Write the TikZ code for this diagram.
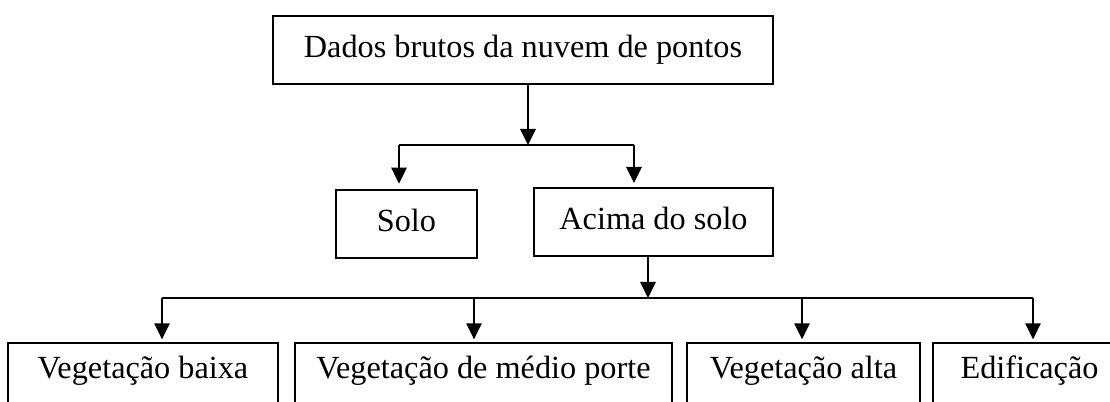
\documentclass[tikz,border=0pt]{standalone}
\usepackage{fontspec}
\setmainfont{Liberation Serif}
\usepackage{tikz}
\usetikzlibrary{arrows.meta, positioning, calc}

\begin{document}
\begin{tikzpicture}[
  x=0.75pt, y=-0.75pt,
  box/.style={draw=black, fill=white, line width=1.3pt, anchor=north, inner xsep=0pt, inner ysep=0pt, align=center, font=\fontsize{24.2}{28}\selectfont, text height=31.5pt, text depth=19.5pt},
  lowbox/.style={box, text height=27pt, text depth=34pt},
  arrow/.style={-{Triangle[length=12pt, width=11.5pt]}, black, line width=1.3pt},
  bar/.style={black, line width=1.3pt}
]
\useasboundingbox (0,0) rectangle (1110,402);
\clip (0,0) rectangle (1110,402);
% boxes
\node[box, minimum width=375pt] (dados) at (523,15) {Dados brutos da nuvem de pontos};
\node[box, minimum width=105.75pt] (solo) at (406.5,189) {Solo};
\node[box, minimum width=179.25pt] (acima) at (653.5,187) {Acima do solo};
\node[lowbox, minimum width=202.5pt] (vbaixa) at (143,342) {Vegetação baixa};
\node[lowbox, minimum width=282.75pt] (vmedio) at (483.5,342) {Vegetação de médio porte};
\node[lowbox, minimum width=174.75pt] (valta) at (803.5,342) {Vegetação alta};
\node[lowbox, minimum width=144.75pt] (edif) at (1029.5,342) {Edificação};
% junctions
\coordinate (s0) at (528,145);
\coordinate (j1) at (399,145);
\coordinate (j2) at (634,145);
\coordinate (s1) at (648,298);
\coordinate (k1) at (162,298);
\coordinate (k2) at (474,298);
\coordinate (k3) at (802,298);
\coordinate (k4) at (1033,298);
% connectors
\draw[arrow] (dados.south -| s0) -- (s0);
\draw[bar] (j1) -- (j2);
\draw[arrow, shorten >=4pt] (j1) -- (j1 |- solo.north);
\draw[arrow, shorten >=3pt] (j2) -- (j2 |- acima.north);
\draw[arrow] (acima.south -| s1) -- (s1);
\draw[bar] (k1) -- (k4);
\draw[arrow, shorten >=2pt] (k1) -- (k1 |- vbaixa.north);
\draw[arrow, shorten >=2pt] (k2) -- (k2 |- vmedio.north);
\draw[arrow, shorten >=2pt] (k3) -- (k3 |- valta.north);
\draw[arrow, shorten >=2pt] (k4) -- (k4 |- edif.north);
\end{tikzpicture}
\end{document}
